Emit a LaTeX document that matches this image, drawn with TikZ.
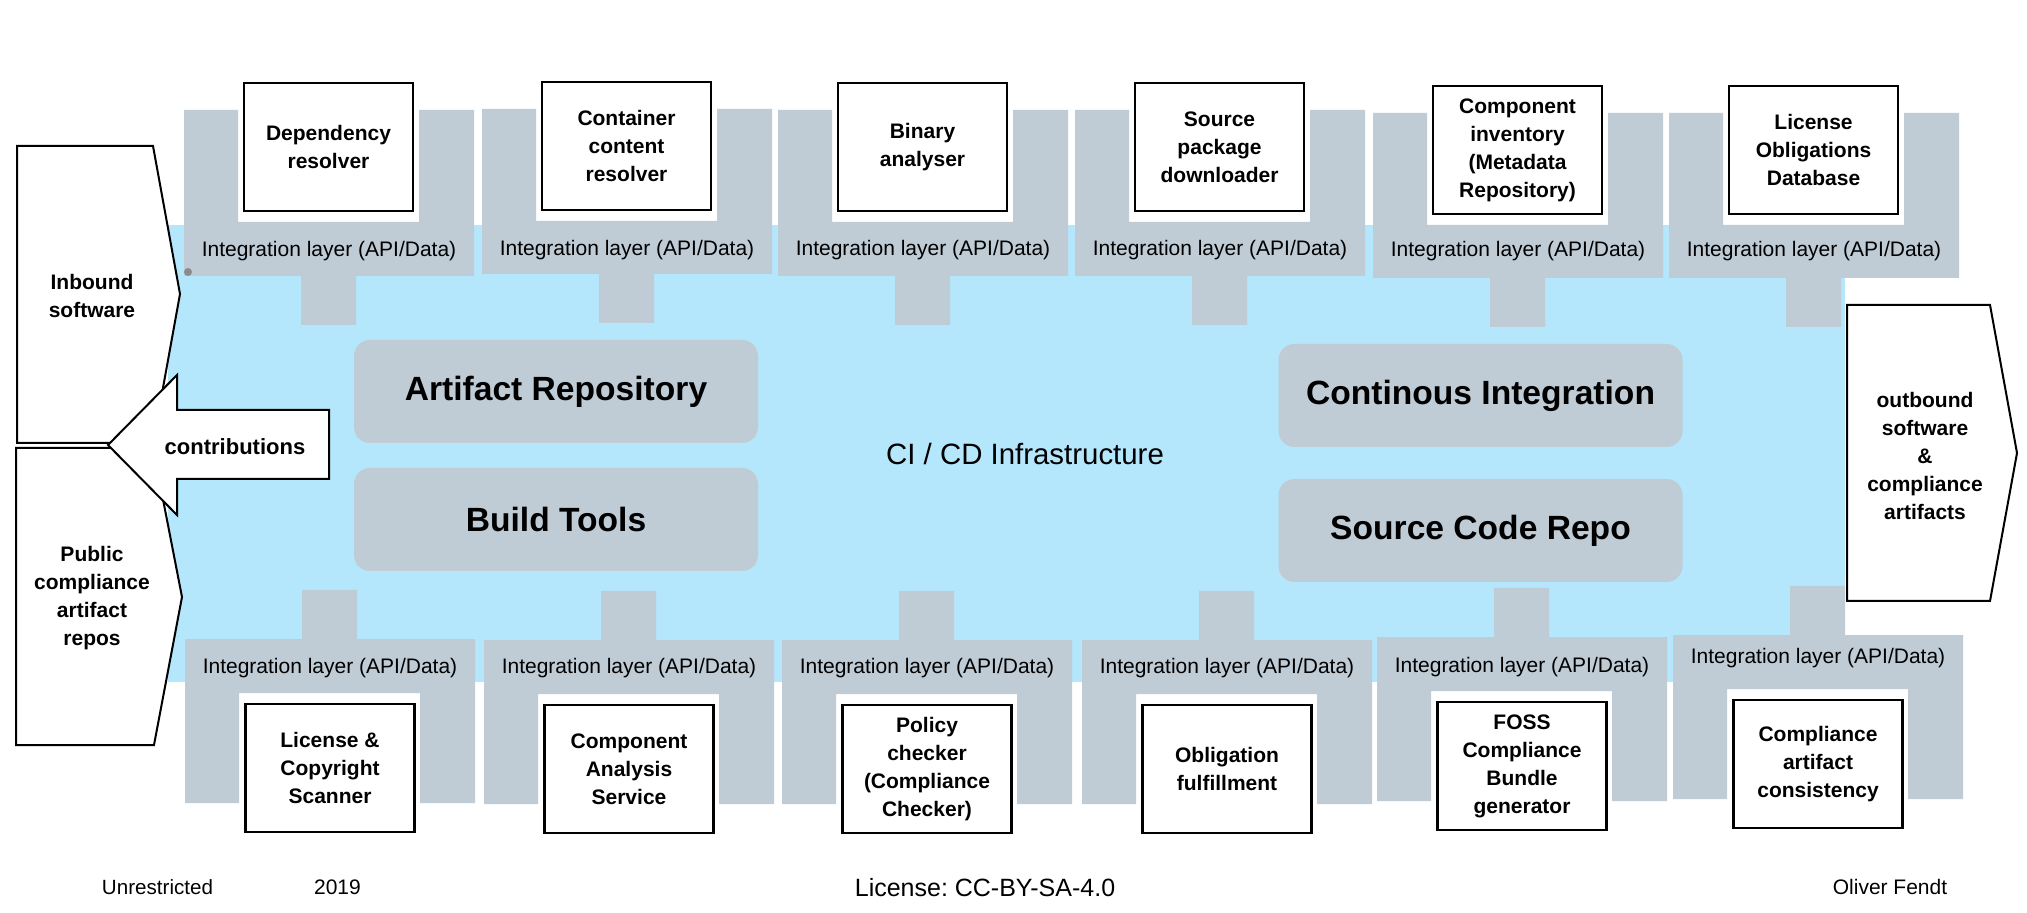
\documentclass[tikz,border=0pt]{standalone}
\usepackage{fontspec}
\setmainfont{Liberation Sans}
\frenchspacing
\definecolor{bandblue}{RGB}{180,230,252}
\definecolor{layergray}{RGB}{191,204,214}
\tikzset{
  modbox/.style={draw=black, line width=1.2pt, fill=white, align=center,
    minimum width=84.5pt, minimum height=64pt, inner sep=1pt,
    font=\fontsize{10.5}{14}\selectfont\bfseries},
  intlabel/.style={inner sep=0pt, font=\fontsize{10.5}{12.6}\selectfont},
  corebox/.style={fill=layergray, rounded corners=8pt, minimum width=202pt,
    minimum height=51.5pt, inner sep=0pt, font=\fontsize{16.8}{20}\selectfont\bfseries},
  flowshape/.style={draw=black, line width=1pt, fill=white},
  flowtext/.style={align=center, inner sep=0pt, font=\fontsize{10.5}{14}\selectfont\bfseries},
  foot/.style={inner sep=0pt, font=\fontsize{10.5}{12.6}\selectfont}
}
\newcommand\topmod[6]{%
  \fill[layergray] (#2,#3) -- (#2+54,#3) -- (#2+54,#3+112) -- (#2+235,#3+112) -- (#2+235,#3) -- (#2+290,#3) -- (#2+290,#4) -- (#2+172,#4) -- (#2+172,#4+49) -- (#2+117,#4+49) -- (#2+117,#4) -- (#2,#4) -- cycle;
  \node[intlabel] (#1-int) at (#2+145,#5+1) {Integration layer (API/Data)};
  \node[modbox] (#1) at (#2+144.5,#3+37) {#6};
}
\newcommand\botmod[5]{%
  \fill[layergray] (#2,#3) -- (#2+117,#3) -- (#2+117,#3-49) -- (#2+172,#3-49) -- (#2+172,#3) -- (#2+290,#3) -- (#2+290,#3+164) -- (#2+235,#3+164) -- (#2+235,#3+54) -- (#2+54,#3+54) -- (#2+54,#3+164) -- (#2,#3+164) -- cycle;
  \node[intlabel] (#1-int) at (#2+145,#4+1) {Integration layer (API/Data)};
  \node[modbox] (#1) at (#2+145,#3+129) {#5};
}
\begin{document}
\begin{tikzpicture}[x=0.5pt,y=-0.5pt]
\useasboundingbox[fill=white] (0,0) rectangle (2027,913);
% CI/CD band
\fill[bandblue] (168,225) rectangle (1845,682);
% top modules
\topmod{dep}{184}{110}{276}{250}{Dependency\\resolver}
\topmod{cont}{482}{109}{274}{249}{Container\\content\\resolver}
\topmod{bin}{778}{110}{276}{249}{Binary\\analyser}
\topmod{src}{1075}{110}{276}{249}{Source\\package\\downloader}
\topmod{inv}{1373}{113}{278}{250}{Component\\inventory\\(Metadata\\Repository)}
\topmod{lod}{1669}{113}{278}{250}{License\\Obligations\\Database}
% bottom modules
\botmod{scan}{185}{639}{667}{License \&\\Copyright\\Scanner}
\botmod{cas}{484}{640}{667}{Component\\Analysis\\Service}
\botmod{pol}{782}{640}{667}{Policy\\checker\\(Compliance\\Checker)}
\botmod{obl}{1082}{640}{667}{Obligation\\fulfillment}
\botmod{foss}{1377}{637}{666}{FOSS\\Compliance\\Bundle\\generator}
\botmod{cac}{1673}{635}{657}{Compliance\\artifact\\consistency}
% core boxes
\node[corebox] (art) at (556,391.5) {Artifact Repository};
\node[corebox] (build) at (556,519.5) {Build Tools};
\node[corebox] (ci) at (1480.5,395.5) {Continous Integration};
\node[corebox] (scr) at (1480.5,530.5) {Source Code Repo};
\node[inner sep=0pt, font=\fontsize{14.7}{17}\selectfont] (infra) at (1025,454) {CI / CD Infrastructure};
% small dot
\fill[black!50, opacity=0.85] (188,272) circle (4);
% inbound / public / outbound
\draw[flowshape] (17,146) -- (153,146) -- (180,294) -- (153,443) -- (17,443) -- cycle;
\node[flowtext] (inb) at (92,296) {Inbound\\software};
\draw[flowshape] (16,448) -- (153,448) -- (182,597) -- (154,745) -- (16,745) -- cycle;
\node[flowtext] (pub) at (92,598) {Public\\compliance\\artifact\\repos};
\draw[flowshape] (1847,305) -- (1990,305) -- (2017,453) -- (1990,601) -- (1847,601) -- cycle;
\node[flowtext] (outb) at (1925,456) {outbound\\software\\\&\\compliance\\artifacts};
% contributions arrow
\draw[flowshape] (108,445) -- (177,375) -- (177,410) -- (329,410) -- (329,479) -- (177,479) -- (177,515) -- cycle;
\node[flowtext, font=\fontsize{11}{13}\selectfont\bfseries] (contrib) at (235,447) {contributions};
% footer
\node[foot, font=\fontsize{10.3}{12}\selectfont] (unr) at (157.5,887) {Unrestricted};
\node[foot] (year) at (337.5,887) {2019};
\node[foot, font=\fontsize{12.5}{15}\selectfont] (lic) at (985,888) {License: CC-BY-SA-4.0};
\node[foot] (auth) at (1890,887) {Oliver Fendt};
\end{tikzpicture}
\end{document}
